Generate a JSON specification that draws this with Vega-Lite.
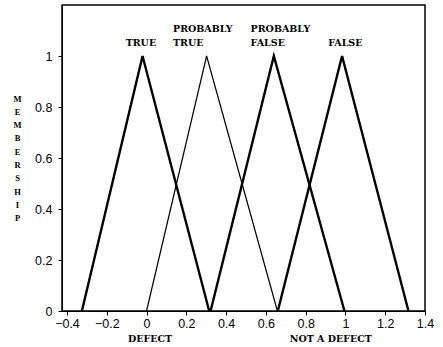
{
  "$schema": "https://vega.github.io/schema/vega-lite/v6.json",
  "width": 363,
  "height": 306,
  "autosize": {"type": "none"},
  "padding": {"left": 62, "top": 5, "right": 18, "bottom": 36},
  "background": "white",
  "config": {
    "view": {"stroke": "black", "strokeWidth": 1.5},
    "axis": {"grid": false, "domainColor": "black", "tickColor": "black", "labelColor": "black", "labelFont": "Liberation Sans", "labelFontSize": 12.5}
  },
  "datasets": {
    "lines": [
      {"series": "TRUE", "x": -0.325, "y": 0},
      {"series": "TRUE", "x": -0.02, "y": 1},
      {"series": "TRUE", "x": 0.315, "y": 0},
      {"series": "PROBABLY TRUE", "x": 0.0, "y": 0},
      {"series": "PROBABLY TRUE", "x": 0.302, "y": 1},
      {"series": "PROBABLY TRUE", "x": 0.658, "y": 0},
      {"series": "PROBABLY FALSE", "x": 0.322, "y": 0},
      {"series": "PROBABLY FALSE", "x": 0.64, "y": 1},
      {"series": "PROBABLY FALSE", "x": 0.995, "y": 0},
      {"series": "FALSE", "x": 0.66, "y": 0},
      {"series": "FALSE", "x": 0.983, "y": 1},
      {"series": "FALSE", "x": 1.317, "y": 0}
    ],
    "labels": [
      {"text": "TRUE", "x": -0.105, "y": 1.031},
      {"text": "PROBABLY\nTRUE", "x": 0.133, "y": 1.088},
      {"text": "PROBABLY\nFALSE", "x": 0.523, "y": 1.088},
      {"text": "FALSE", "x": 0.913, "y": 1.031},
      {"text": "DEFECT", "x": -0.093, "y": -0.128},
      {"text": "NOT A DEFECT", "x": 0.72, "y": -0.128}
    ]
  },
  "layer": [
    {
      "data": {"name": "lines"},
      "mark": {"type": "line", "color": "black", "strokeJoin": "miter"},
      "encoding": {
        "x": {"field": "x", "type": "quantitative", "scale": {"domain": [-0.425, 1.4], "nice": false, "zero": false},
              "axis": {"title": null, "values": [-0.4, -0.2, 0, 0.2, 0.4, 0.6, 0.8, 1, 1.2, 1.4], "format": "~g", "tickSize": 4, "labelPadding": 2, "labelFlush": false, "labelOverlap": false}},
        "y": {"field": "y", "type": "quantitative", "scale": {"domain": [0, 1.2], "nice": false},
              "axis": {"values": [0, 0.2, 0.4, 0.6, 0.8, 1], "format": "~g", "tickSize": 4, "labelPadding": 6, "labelFlush": false,
                       "title": ["M", "E", "M", "B", "E", "R", "S", "H", "I", "P"], "titleAngle": 0, "titleFont": "Liberation Serif", "titleFontSize": 8.5, "titleFontWeight": "bold",
                       "titleLineHeight": 13.3, "titleX": -45, "titleY": 89, "titleAlign": "center", "titleBaseline": "top"}},
        "detail": {"field": "series"},
        "strokeWidth": {"condition": {"test": "datum.series === 'PROBABLY TRUE'", "value": 1.2}, "value": 2.4}
      }
    },
    {
      "data": {"name": "labels"},
      "mark": {"type": "text", "align": "left", "baseline": "bottom", "font": "DejaVu Serif", "fontWeight": "bold", "fontSize": 9.5, "lineHeight": 14, "lineBreak": "\n", "color": "black"},
      "encoding": {
        "x": {"field": "x", "type": "quantitative"},
        "y": {"field": "y", "type": "quantitative"},
        "text": {"field": "text"}
      }
    }
  ]
}
